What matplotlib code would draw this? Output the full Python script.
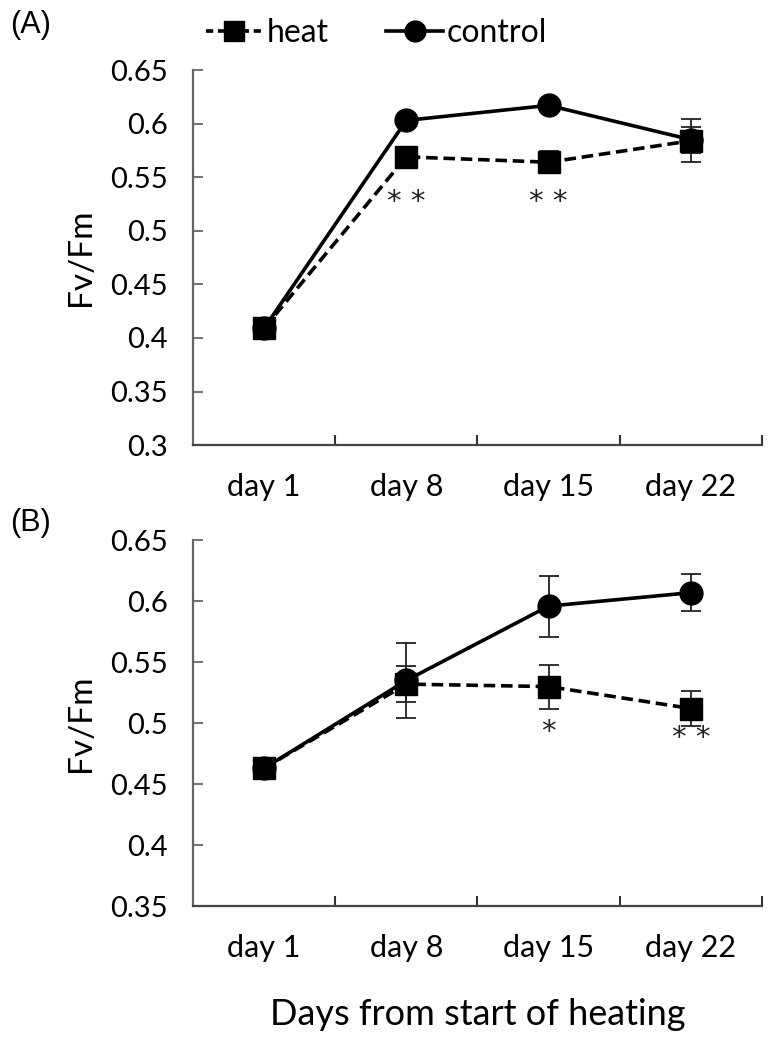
import matplotlib
matplotlib.use("Agg")
import matplotlib.pyplot as plt
from matplotlib.lines import Line2D
import numpy as np

days = ["day 1", "day 8", "day 15", "day 22"]

# Panel A
a_heat = [0.409, 0.569, 0.564, 0.584]
a_heat_err = [0.004, 0.004, 0.010, 0.020]
a_ctrl = [0.409, 0.603, 0.617, 0.585]
a_ctrl_err = [0.003, 0.003, 0.003, 0.012]
a_stars = ["", "* *", "* *", ""]
a_star_y = [None, 0.527, 0.527, None]

# Panel B
b_heat = [0.463, 0.532, 0.530, 0.512]
b_heat_err = [0.003, 0.015, 0.018, 0.014]
b_ctrl = [0.463, 0.535, 0.596, 0.607]
b_ctrl_err = [0.003, 0.031, 0.025, 0.015]
b_stars = ["", "", "*", "* *"]
b_star_y = [None, None, 0.493, 0.488]

a_yticks = [0.3, 0.35, 0.4, 0.45, 0.5, 0.55, 0.6, 0.65]
b_yticks = [0.35, 0.4, 0.45, 0.5, 0.55, 0.6, 0.65]

FONT = "Lato"
plt.rcParams["font.family"] = [FONT, "DejaVu Sans"]

fig = plt.figure(figsize=(7.84, 10.45), dpi=100)
axA = fig.add_axes([0.246, 0.574, 0.726, 0.359])
axB = fig.add_axes([0.246, 0.133, 0.726, 0.350])

x = np.arange(len(days))

def draw(ax, heat, heat_err, ctrl, ctrl_err, yticks, stars, star_y, heat_on_top):
    zh, zc = (5, 4) if heat_on_top else (4, 5)
    ax.errorbar(x, ctrl, yerr=ctrl_err, fmt="none", ecolor="#222222",
                elinewidth=1.3, capsize=7, capthick=1.3, zorder=2)
    ax.errorbar(x, heat, yerr=heat_err, fmt="none", ecolor="#222222",
                elinewidth=1.3, capsize=7, capthick=1.3, zorder=2)
    ax.plot(x, heat, color="black", lw=2.6, ls=(0, (3.2, 1.6)), marker="s",
            markersize=16.5, zorder=zh)
    ax.plot(x, ctrl, color="black", lw=2.6, ls="-", marker="o",
            markersize=16.5, zorder=zc)
    for xi, s, sy in zip(x, stars, star_y):
        if s:
            ax.text(xi, sy, s, ha="center", va="center", fontsize=21,
                    family="DejaVu Sans", color="#222222")
    ax.set_xlim(-0.5, 3.5)
    ax.set_ylim(yticks[0], yticks[-1])
    ax.set_yticks(yticks)
    ax.set_yticklabels([f"{v:g}" for v in yticks], fontsize=21)
    ax.set_xticks([0.5, 1.5, 2.5, 3.5])
    ax.set_xticklabels([])
    ax.set_xticks(x, minor=True)
    ax.set_xticklabels(days, minor=True, fontsize=22)
    ax.tick_params(axis="x", which="major", direction="in", length=7,
                   width=1.5, color="#333333")
    ax.tick_params(axis="x", which="minor", length=0, pad=20)
    ax.tick_params(axis="y", direction="in", length=7, width=1.5,
                   color="#777777", pad=18)
    for sp in ["top", "right"]:
        ax.spines[sp].set_visible(False)
    ax.spines["left"].set_color("#666666")
    ax.spines["left"].set_linewidth(1.6)
    ax.spines["bottom"].set_color("#444444")
    ax.spines["bottom"].set_linewidth(1.6)
    ax.set_ylabel("Fv/Fm", fontsize=24, labelpad=10)

draw(axA, a_heat, a_heat_err, a_ctrl, a_ctrl_err, a_yticks, a_stars, a_star_y, True)
draw(axB, b_heat, b_heat_err, b_ctrl, b_ctrl_err, b_yticks, b_stars, b_star_y, False)

axB.set_xlabel("Days from start of heating", fontsize=26, labelpad=26)

fig.text(0.013, 0.976, "(A)", fontsize=22, family="Liberation Sans",
         va="center", ha="left")
fig.text(0.013, 0.500, "(B)", fontsize=22, family="Liberation Sans",
         va="center", ha="left")

handles = [
    Line2D([], [], color="black", lw=2.6, ls=(0, (2, 1.3)), marker="s",
           markersize=14),
    Line2D([], [], color="black", lw=2.6, ls="-", marker="o", markersize=15),
]
fig.legend(handles, ["heat", "control"], loc="center", ncol=2,
           bbox_to_anchor=(0.48, 0.968), frameon=False, fontsize=23,
           handlelength=1.8, handletextpad=0.1, columnspacing=1.8)

fig.savefig("out.png", dpi=100)
